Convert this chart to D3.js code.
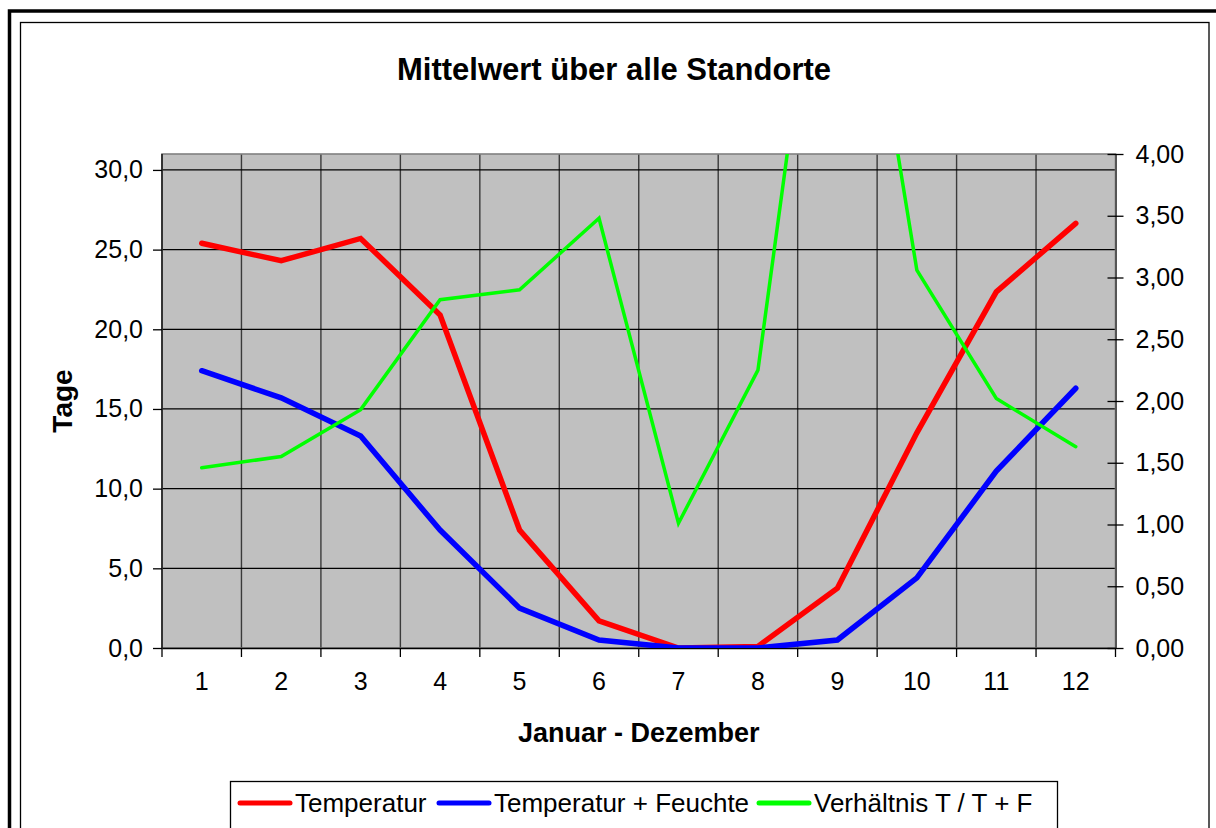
<!DOCTYPE html>
<html>
<head>
<meta charset="utf-8">
<script src="https://cdn.jsdelivr.net/npm/d3@7"></script>
<style>
  body { margin: 0; background: #fff; }
  svg { display: block; font-family: Arial, "Liberation Sans", sans-serif; }
</style>
</head>
<body>
<div id="chart"></div>
<script>
const months = [1, 2, 3, 4, 5, 6, 7, 8, 9, 10, 11, 12];
const temperatur = [25.4, 24.3, 25.7, 20.9, 7.4, 1.7, 0.0, 0.1, 3.75, 13.5, 22.35, 26.65];
const tempFeuchte = [17.4, 15.7, 13.3, 7.4, 2.5, 0.5, 0.0, 0.0, 0.5, 4.4, 11.1, 16.3];
const verhaeltnis = [1.46, 1.55, 1.93, 2.82, 2.90, 3.48, 1.01, 2.25, 7.0, 3.06, 2.02, 1.63];
const leftTicks = [0, 5, 10, 15, 20, 25, 30];
const rightTicks = [0, 0.5, 1, 1.5, 2, 2.5, 3, 3.5, 4];

const width = 1216;
const height = 828;
const plot = {left: 162, right: 1115.5, top: 154, bottom: 648};

const svg = d3.select('#chart').append('svg')
    .attr('width', width).attr('height', height);

// frames
svg.append('rect')
    .attr('x', 9.5).attr('y', 11).attr('width', width + 20).attr('height', height + 20)
    .attr('fill', 'none').attr('stroke', '#000').attr('stroke-width', 3.5);
svg.append('rect')
    .attr('x', 20.5).attr('y', 22.5).attr('width', 1188.5).attr('height', height)
    .attr('fill', 'none').attr('stroke', '#000').attr('stroke-width', 1.3);

const x = d3.scaleBand()
    .domain(months)
    .range([plot.left, plot.right]);

const yL = d3.scaleLinear().domain([0, 31]).range([plot.bottom, plot.top]);
const yR = d3.scaleLinear().domain([0, 4]).range([plot.bottom, plot.top]);

const fmt1 = d => d3.format('.1f')(d).replace('.', ',');
const fmt2 = d => d3.format('.2f')(d).replace('.', ',');

// plot area
svg.append('rect')
    .attr('x', plot.left).attr('y', plot.top)
    .attr('width', plot.right - plot.left).attr('height', plot.bottom - plot.top)
    .attr('fill', '#c0c0c0');

// vertical gridlines at category borders
svg.append('g')
    .selectAll('line').data(months.slice(1)).enter().append('line')
    .attr('x1', d => x(d)).attr('x2', d => x(d))
    .attr('y1', plot.top).attr('y2', plot.bottom)
    .attr('stroke', '#3a3a3a').attr('stroke-width', 1.4);

// horizontal gridlines
svg.append('g')
    .selectAll('line').data(leftTicks.slice(1)).enter().append('line')
    .attr('x1', plot.left).attr('x2', plot.right)
    .attr('y1', d => yL(d)).attr('y2', d => yL(d))
    .attr('stroke', '#000').attr('stroke-width', 1.3);

// plot border
svg.append('rect')
    .attr('x', plot.left).attr('y', plot.top)
    .attr('width', plot.right - plot.left).attr('height', plot.bottom - plot.top)
    .attr('fill', 'none').attr('stroke', '#808080').attr('stroke-width', 1.6);

// left axis
const yLAxis = g => g
    .attr('transform', `translate(${plot.left}, 0)`)
    .call(d3.axisLeft(yL).tickValues(leftTicks).tickFormat(fmt1).tickSize(9).tickPadding(10))
    .call(g => g.select('.domain').attr('stroke', '#000').attr('stroke-width', 1.3).attr('d', `M0,${plot.top}V${plot.bottom}`))
    .call(g => g.selectAll('.tick line').attr('stroke-width', 1.3))
    .call(g => g.selectAll('text').attr('font-size', 25).attr('fill', '#000'));
svg.append('g').call(yLAxis);

// right axis
const yRAxis = g => g
    .attr('transform', `translate(${plot.right}, 0)`)
    .call(d3.axisRight(yR).tickValues(rightTicks).tickFormat(fmt2).tickSizeInner(8).tickSizeOuter(0).tickPadding(12))
    .call(g => g.select('.domain').attr('stroke', '#555').attr('stroke-width', 2))
    .call(g => g.selectAll('.tick line').attr('x1', -8).attr('stroke-width', 1.3))
    .call(g => g.selectAll('text').attr('font-size', 25).attr('fill', '#000'));
svg.append('g').call(yRAxis);

// bottom axis
const xAxis = g => g
    .attr('transform', `translate(0, ${plot.bottom})`)
    .call(d3.axisBottom(x).tickSize(0).tickPadding(24))
    .call(g => g.select('.domain').attr('stroke', '#000').attr('stroke-width', 1.3))
    .call(g => g.selectAll('text').attr('font-size', 25).attr('fill', '#000'));
svg.append('g').call(xAxis);

svg.append('g')
    .selectAll('line').data(months.concat([13])).enter().append('line')
    .attr('x1', d => d === 13 ? plot.right : x(d)).attr('x2', d => d === 13 ? plot.right : x(d))
    .attr('y1', plot.bottom).attr('y2', plot.bottom + 9)
    .attr('stroke', '#000').attr('stroke-width', 1.3);

// clip
svg.append('clipPath').attr('id', 'clip')
    .append('rect')
    .attr('x', plot.left).attr('y', plot.top)
    .attr('width', plot.right - plot.left).attr('height', plot.bottom - plot.top);

const cx = d => x(d) + x.bandwidth() / 2;
const series = [
    {name: 'Temperatur', values: temperatur, scale: yL, color: '#ff0000', w: 5.5},
    {name: 'Temperatur + Feuchte', values: tempFeuchte, scale: yL, color: '#0000ff', w: 5.5},
    {name: 'Verhältnis T / T + F', values: verhaeltnis, scale: yR, color: '#00ff00', w: 3.5}
];

const lines = svg.append('g').attr('clip-path', 'url(#clip)');
for (let s of series) {
    const line = d3.line()
        .x((d, i) => cx(months[i]))
        .y(d => s.scale(d));
    lines.append('path')
        .datum(s.values)
        .attr('d', line)
        .attr('fill', 'none')
        .attr('stroke', s.color)
        .attr('stroke-width', s.w)
        .attr('stroke-linejoin', 'miter')
        .attr('stroke-linecap', 'round');
}

// titles
svg.append('text')
    .attr('x', 614).attr('y', 80)
    .attr('text-anchor', 'middle')
    .attr('font-size', 31).attr('font-weight', 'bold')
    .text('Mittelwert über alle Standorte');

svg.append('text')
    .attr('x', (plot.left + plot.right) / 2).attr('y', 742)
    .attr('text-anchor', 'middle')
    .attr('font-size', 27).attr('font-weight', 'bold')
    .text('Januar - Dezember');

svg.append('text')
    .attr('transform', `translate(72, ${(plot.top + plot.bottom) / 2}) rotate(-90)`)
    .attr('text-anchor', 'middle')
    .attr('font-size', 28).attr('font-weight', 'bold')
    .text('Tage');

// legend
const legend = svg.append('g');
legend.append('rect')
    .attr('x', 230.5).attr('y', 781.5).attr('width', 827).attr('height', 70)
    .attr('fill', '#fff').attr('stroke', '#000').attr('stroke-width', 1.3);

const legendX = [238, 437, 757];
series.forEach((s, i) => {
    const g = legend.append('g').attr('transform', `translate(${legendX[i]}, 803)`);
    g.append('line')
        .attr('x1', 2).attr('x2', 52).attr('y1', 0).attr('y2', 0)
        .attr('stroke', s.color).attr('stroke-width', 5).attr('stroke-linecap', 'round');
    g.append('text')
        .attr('x', 57).attr('y', 9)
        .attr('font-size', 26)
        .text(s.name);
});
</script>
</body>
</html>
